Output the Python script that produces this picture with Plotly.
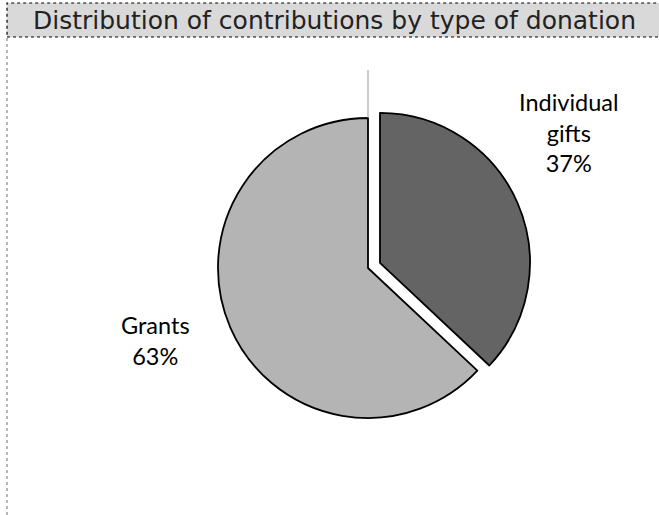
import plotly.graph_objects as go

categories = ["Individual gifts", "Grants"]
values = [37, 63]
label_lines = ["Individual<br>gifts", "Grants"]
title_text = "Distribution of contributions by type of donation"

W, H = 659, 515
colors = ["#646464", "#b4b4b4"]

pull = [0.087, 0]
# pie centre (368,268) px, radius 150 px
R = 150 * (1 + max(pull))
cx, cy = 368, 268
dom_x = [(cx - R) / W, (cx + R) / W]
dom_y = [1 - (cy + R) / H, 1 - (cy - R) / H]

fig = go.Figure(go.Pie(
    labels=categories, values=values, sort=False, direction="clockwise",
    rotation=0, pull=pull, textinfo="none", hoverinfo="label+percent",
    marker=dict(colors=colors, line=dict(color="black", width=1.8)),
    domain=dict(x=dom_x, y=dom_y), showlegend=False,
))

total = sum(values)
pcts = [round(v * 100 / total) for v in values]
label_pos = [(569, 133), (155, 340)]
for i, (lx, ly) in enumerate(label_pos):
    fig.add_annotation(x=lx / W, y=1 - ly / H, xref="paper", yref="paper",
                       text=f"{label_lines[i]}<br>{pcts[i]}%", showarrow=False,
                       font=dict(family="Lato", size=23.5, color="black"),
                       align="center", xanchor="center", yanchor="middle")

shapes = [
    dict(type="rect", xref="paper", yref="paper", x0=7 / W, x1=1.01, y0=1 - 37 / H, y1=1 - 3 / H,
         fillcolor="#d9d9d9", line=dict(color="black", width=1.2, dash="dot"), layer="below"),
    dict(type="line", xref="paper", yref="paper", x0=7 / W, x1=7 / W, y0=0, y1=1 - 37 / H,
         line=dict(color="#888888", width=1.2, dash="dot")),
    dict(type="line", xref="paper", yref="paper", x0=368 / W, x1=368 / W, y0=1 - 118 / H, y1=1 - 70 / H,
         line=dict(color="#999999", width=1)),
]
fig.update_layout(shapes=shapes)
fig.add_annotation(x=334 / W, y=1 - 21 / H, xref="paper", yref="paper", text=title_text,
                   showarrow=False, font=dict(family="DejaVu Sans", size=25, color="#222222"),
                   xanchor="center", yanchor="middle")

fig.update_layout(width=W, height=H, margin=dict(l=0, r=0, t=0, b=0),
                  paper_bgcolor="white", plot_bgcolor="white")
fig.write_html("out.html", config={"displayModeBar": False},
               post_script="document.body.style.margin='0';document.body.style.overflow='hidden';")
